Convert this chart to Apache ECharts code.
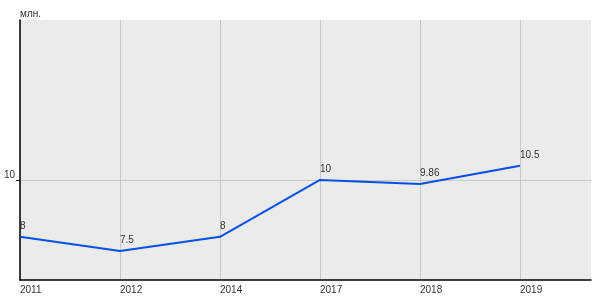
<!DOCTYPE html>
<html>
<head>
<meta charset="utf-8">
<script src="https://cdn.jsdelivr.net/npm/echarts@6/dist/echarts.min.js"></script>
<style>
  html, body { margin: 0; padding: 0; background: #fff; }
  #chart { width: 600px; height: 300px; }
</style>
</head>
<body>
<div id="chart"></div>
<script>
// годы и значения (млн.)
var years = ['2011', '2012', '2014', '2017', '2018', '2019'];
var values = [8, 7.5, 8, 10, 9.86, 10.5];
var yTicks = [10];
var xTicks = [0, 1, 2, 3, 4, 5];

var textColor = '#333';
var font = 'Liberation Sans, Arial, sans-serif';

var points = [];
for (var i = 0; i < values.length; i++) {
  points.push([i, values[i]]);
}

var myChart = echarts.init(document.getElementById('chart'));
var option = {
  animation: false,
  backgroundColor: '#fff',
  grid: {
    left: 20,
    top: 20,
    right: 9,
    bottom: 20,
    show: true,
    backgroundColor: '#ebebeb',
    borderWidth: 0
  },
  xAxis: {
    type: 'value',
    min: 0,
    max: 5.71,
    axisLine: { show: true, onZero: false, lineStyle: { color: '#000', width: 1.5 } },
    axisTick: { show: false, customValues: xTicks },
    axisLabel: {
      customValues: xTicks,
      align: 'left',
      margin: 5,
      color: textColor,
      fontSize: 10,
      fontFamily: font,
      formatter: function (v) { return years[v] || ''; }
    },
    splitLine: { show: true, lineStyle: { color: '#c8c8c8', width: 1 } }
  },
  yAxis: {
    type: 'value',
    min: 6.48,
    max: 15.63,
    name: 'млн.',
    nameLocation: 'end',
    nameGap: 1,
    nameTextStyle: {
      align: 'left',
      verticalAlign: 'bottom',
      color: textColor,
      fontSize: 10,
      fontFamily: font
    },
    axisLine: { show: true, lineStyle: { color: '#000', width: 1.5 } },
    axisTick: { show: true, length: 4, customValues: yTicks, lineStyle: { color: '#000' } },
    axisLabel: {
      customValues: yTicks,
      margin: 5,
      verticalAlign: 'bottom',
      color: textColor,
      fontSize: 10,
      fontFamily: font
    },
    splitLine: { show: true, lineStyle: { color: '#c8c8c8', width: 1 } }
  },
  series: [{
    type: 'line',
    data: points,
    symbol: 'circle',
    symbolSize: 0,
    lineStyle: { color: '#0050e6', width: 2 },
    itemStyle: { color: '#0050e6' },
    label: {
      show: true,
      position: 'top',
      align: 'left',
      verticalAlign: 'bottom',
      distance: 6,
      color: textColor,
      fontSize: 10,
      fontFamily: font,
      formatter: function (p) { return p.value[1]; }
    }
  }]
};
myChart.setOption(option);
</script>
</body>
</html>
